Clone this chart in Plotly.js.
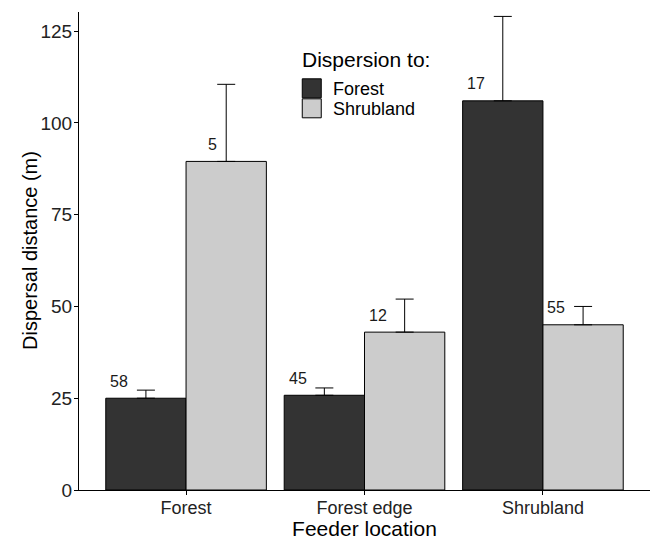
<!DOCTYPE html>
<html>
<head>
<meta charset="utf-8">
<script src="https://cdn.plot.ly/plotly-3.0.1.min.js"></script>
<style>html,body{margin:0;padding:0;background:#fff;}#chart{width:654px;height:540px;}</style>
</head>
<body>
<div id="chart"></div>
<script>
// Data
var feederLocations = ["Forest", "Forest edge", "Shrubland"];
var forestMeans = [25, 25.8, 106];
var forestErrors = [2.2, 2, 23];
var forestCounts = ["58", "45", "17"];
var shrubMeans = [89.5, 43, 45];
var shrubErrors = [21, 9, 5];
var shrubCounts = ["5", "12", "55"];
var yTicks = [0, 25, 50, 75, 100, 125];
var legendTitle = "Dispersion to:";
var seriesNames = ["Forest", "Shrubland"];
var seriesColors = ["#333333", "#cccccc"];
var xTitle = "Feeder location";
var yTitle = "Dispersal distance (m)";

var font = "Liberation Sans, Arial, sans-serif";

function barTrace(name, y, err, color) {
  return {
    type: "bar", name: name, x: feederLocations, y: y,
    marker: {color: color, line: {color: "#000", width: 1}},
    error_y: {type: "data", array: err, arrayminus: err.map(function(){return 0;}), symmetric: false,
              color: "#000", thickness: 1, width: 9},
    hoverinfo: "skip", showlegend: false
  };
}

var traces = [
  barTrace(seriesNames[0], forestMeans, forestErrors, seriesColors[0]),
  barTrace(seriesNames[1], shrubMeans, shrubErrors, seriesColors[1])
];

var annotations = [];
function addLabels(vals, counts, side) {
  for (var i = 0; i < feederLocations.length; i++) {
    var nudge = counts[i].length > 1 ? -27 : -14;
    annotations.push({
      x: feederLocations[i], y: vals[i], xref: "x", yref: "y",
      text: counts[i], showarrow: false,
      xshift: side * 40 + nudge, yshift: 17,
      font: {family: font, size: 16, color: "#1a1a1a"}
    });
  }
}
addLabels(forestMeans, forestCounts, -1);
addLabels(shrubMeans, shrubCounts, 1);

// y-axis title (placed like ggplot's)
annotations.push({
  xref: "paper", yref: "paper", x: 0, y: 0.5, xanchor: "center", yanchor: "middle",
  xshift: -49, text: yTitle, textangle: -90, showarrow: false,
  font: {family: font, size: 20, color: "#000"}
});

// Manual legend (ggplot-style square keys)
var legX = 0.391;
var legY = 0.9;
var shapes = [];
annotations.push({
  xref: "paper", yref: "paper", x: legX, y: legY, xanchor: "left", yanchor: "middle",
  xshift: -2, text: legendTitle, showarrow: false,
  font: {family: font, size: 21, color: "#000"}
});
seriesNames.forEach(function (nm, i) {
  shapes.push({
    type: "rect", xref: "paper", yref: "paper",
    xsizemode: "pixel", ysizemode: "pixel", xanchor: legX, yanchor: legY,
    x0: 0, x1: 19, y0: -19 - 20 * i, y1: -38 - 20 * i,
    fillcolor: seriesColors[i], line: {color: "#000", width: 1}
  });
  annotations.push({
    xref: "paper", yref: "paper", x: legX, y: legY, xanchor: "left", yanchor: "middle",
    xshift: 29, yshift: -29 - 20 * i, text: nm, showarrow: false,
    font: {family: font, size: 18, color: "#000"}
  });
});

var layout = {
  width: 654, height: 540,
  margin: {l: 79, r: 4, t: 12, b: 50},
  paper_bgcolor: "#fff", plot_bgcolor: "#fff",
  barmode: "group", bargap: 0.1, bargroupgap: 0,
  font: {family: font, color: "#000"},
  showlegend: false,
  xaxis: {
    range: [-0.6, 2.6],
    showline: true, linecolor: "#000", linewidth: 1,
    ticks: "outside", ticklen: 4, tickcolor: "#000",
    ticklabelstandoff: -3,
    tickfont: {family: font, size: 18, color: "#222"},
    title: {text: xTitle, font: {family: font, size: 21, color: "#000"}, standoff: 5},
    showgrid: false, zeroline: false, fixedrange: true
  },
  yaxis: {
    range: [0, 130.2],
    tickvals: yTicks, ticktext: yTicks.map(String),
    showline: true, linecolor: "#000", linewidth: 1,
    ticks: "outside", ticklen: 4, tickcolor: "#000",
    ticklabelstandoff: -2,
    tickfont: {family: font, size: 19, color: "#222"},
    showgrid: false, zeroline: false, fixedrange: true
  },
  shapes: shapes,
  annotations: annotations
};

Plotly.newPlot("chart", traces, layout, {displayModeBar: false, staticPlot: true});
</script>
</body>
</html>
